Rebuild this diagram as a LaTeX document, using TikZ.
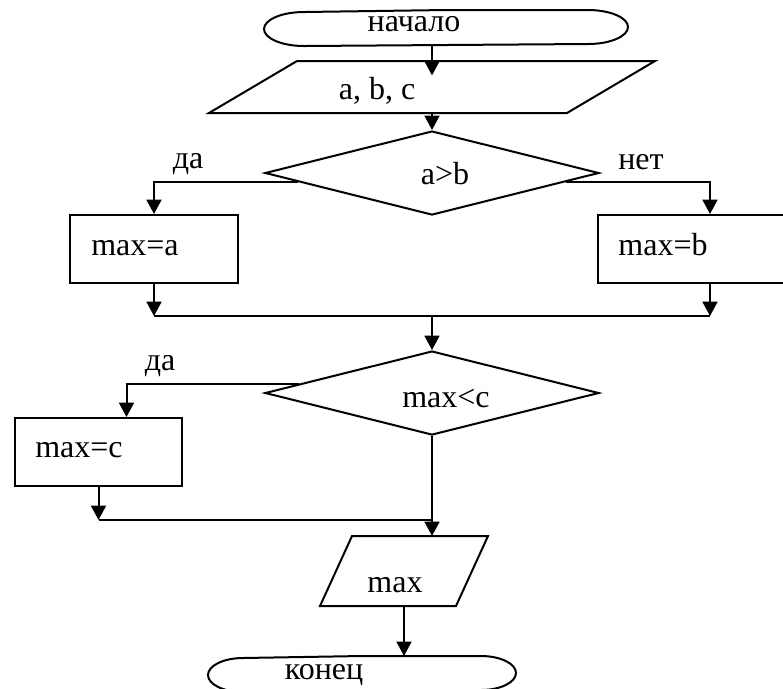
\documentclass[12pt,tikz,border=0pt]{standalone}
\usepackage{fontspec}
\setmainfont{Liberation Serif}
\usetikzlibrary{shapes.geometric,arrows.meta,calc}

% outline of a start/end block: straight sides, elliptic ends
\newcommand{\termoutline}[3]{%
  \draw (#1.north) -- (#1.north east)
    arc[start angle=90,end angle=-90,x radius=#2,y radius=#3]
    -- (#1.south west)
    arc[start angle=270,end angle=90,x radius=#2,y radius=#3] -- cycle;}
% outline of an input/output block, top side pushed right by #2
\newcommand{\iooutline}[2]{%
  \draw ([xshift=#2]#1.north west) -- (#1.north east)
    -- ([xshift=-#2]#1.south east) -- (#1.south west) -- cycle;}

\begin{document}
\begin{tikzpicture}[x=0.375pt,y=0.375pt,line width=0.75pt,
    arr/.style={-{Triangle[length=5.4pt,width=5.6pt]}},
    term/.style={rectangle,minimum height=12.75pt},
    io/.style={rectangle},
    cond/.style={draw,diamond,minimum width=125.25pt,minimum height=31.5pt},
    act/.style={draw,rectangle,minimum height=25.5pt}]
      \tikzstyle{every node}+=[inner sep=0pt]
      \useasboundingbox (0,0) rectangle (783,-688);
      \clip (0,0) rectangle (783,-688);

      % blocks
      \node[term,minimum width=105.75pt] (start) at (446,-28) {};
      \termoutline{start}{15pt}{6.375pt}
      \node (starttxt) at (414,-24) {начало};
      \node[io,minimum width=166.5pt,minimum height=18.75pt] (inabc) at (432,-87) {};
      \iooutline{inabc}{33pt}
      \node (inabctxt) at (377,-91) {a, b, c};
      \node[cond] (cond1) at (432,-173) {};
      \node (cond1txt) at (445,-174) {a>b};
      \node[act,minimum width=63pt] (maxa) at (154,-249) {};
      \node (maxatxt) at (135,-248) {max=a};
      \node[act,minimum width=84pt] (maxb) at (710,-249) {};
      \node (maxbtxt) at (663,-245) {max=b};
      \node[cond] (cond2) at (432,-393) {};
      \node (cond2txt) at (446,-398) {max<c};
      \node[act,minimum width=62.6pt] (maxc) at (98.5,-452) {};
      \node (maxctxt) at (79,-450) {max=c};
      \node[io,minimum width=62.25pt,minimum height=25.5pt] (outmax) at (404,-571) {};
      \iooutline{outmax}{12pt}
      \node (outmaxtxt) at (395,-585) {max};
      \node[term,minimum width=88.5pt] (finish) at (362,-674) {};
      \termoutline{finish}{13.125pt}{6.375pt}
      \node (finishtxt) at (324,-675) {конец};

      % branch labels
      \node (yes1) at (188,-164) {да};
      \node (no1) at (641,-162) {нет};
      \node (yes2) at (160,-366) {да};

      % connectors
      \coordinate (join1) at (432,-316);
      \coordinate (join2) at (432,-520);
      \draw[arr,shorten >=-5.4pt] (inabc.north |- start.south) -- (inabc.north);
      \draw[arr] (inabc.south) -- (cond1.north);
      \draw[arr] ($(cond1.west)!0.2!(cond1.south)$) -| (maxa);
      \draw[arr] ($(cond1.east)!0.2!(cond1.south)$) -| (maxb);
      \draw[arr] (maxa) -- (maxa |- join1);
      \draw[arr] (maxb) -- (maxb |- join1);
      \draw (maxa |- join1) -- (maxb |- join1);
      \draw[arr] (join1) -- (cond2);
      \draw[arr] ($(cond2.west)!0.21!(cond2.north)$) -| ([xshift=10.5pt]maxc.north);
      \draw[arr] (maxc) -- (maxc.south |- join2);
      \draw (maxc.south |- join2) -- (join2);
      \draw[arr] (cond2.south) -- (cond2.south |- outmax.north);
      \draw[arr] (outmax.south) -- (outmax.south |- finish.north);
\end{tikzpicture}
\end{document}
